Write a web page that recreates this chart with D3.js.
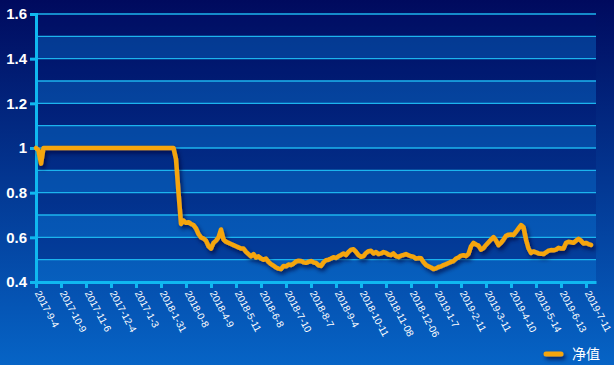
<!DOCTYPE html>
<html><head><meta charset="utf-8">
<script src="https://cdn.jsdelivr.net/npm/d3@7/dist/d3.min.js"></script>
<style>html,body{margin:0;padding:0;overflow:hidden;}svg{display:block;}</style>
</head><body>
<svg id="chart" width="614" height="365"></svg>
<script>
const xLabels = ["2017-9-4","2017-10-9","2017-11-6","2017-12-4","2017-1-3","2018-1-31","2018-0-8","2018-4-9","2018-5-11","2018-6-8","2018-7-10","2018-8-7","2018-9-4","2018-10-11","2018-11-08","2018-12-06","2019-1-7","2019-2-11","2019-3-11","2019-4-10","2019-5-14","2019-6-13","2019-7-11"];
const yTicks = [0.4, 0.6, 0.8, 1.0, 1.2, 1.4, 1.6];
const seriesName = "净值";
const netValue = [
1.0,0.99,0.93,1.0,1.0,1.0,1.0,1.0,1.0,1.0,
1.0,1.0,1.0,1.0,1.0,1.0,1.0,1.0,1.0,1.0,
1.0,1.0,1.0,1.0,1.0,1.0,1.0,1.0,1.0,1.0,
1.0,1.0,1.0,1.0,1.0,1.0,1.0,1.0,1.0,1.0,
1.0,1.0,1.0,1.0,1.0,1.0,1.0,1.0,1.0,1.0,
1.0,1.0,1.0,1.0,1.0,1.0,0.95,0.80,0.66,0.675,
0.665,0.668,0.66,0.655,0.64,0.615,0.60,0.595,0.585,0.56,
0.55,0.575,0.585,0.60,0.635,0.59,0.58,0.575,0.57,0.565,
0.56,0.555,0.55,0.55,0.535,0.525,0.515,0.525,0.51,0.515,
0.505,0.50,0.505,0.49,0.48,0.473,0.465,0.46,0.458,0.472,
0.47,0.478,0.476,0.482,0.492,0.495,0.494,0.488,0.486,0.49,
0.494,0.488,0.485,0.475,0.472,0.488,0.498,0.50,0.505,0.511,
0.508,0.515,0.521,0.528,0.521,0.535,0.545,0.547,0.535,0.52,
0.513,0.516,0.53,0.538,0.54,0.528,0.534,0.525,0.528,0.534,
0.53,0.523,0.52,0.528,0.516,0.512,0.518,0.521,0.525,0.52,
0.515,0.513,0.505,0.507,0.506,0.489,0.476,0.47,0.465,0.458,
0.461,0.467,0.47,0.476,0.48,0.485,0.49,0.494,0.505,0.51,
0.518,0.52,0.516,0.526,0.56,0.575,0.568,0.563,0.545,0.552,
0.566,0.578,0.59,0.601,0.586,0.565,0.575,0.59,0.607,0.612,
0.613,0.611,0.625,0.64,0.655,0.645,0.59,0.55,0.53,0.537,
0.533,0.528,0.527,0.525,0.533,0.54,0.543,0.542,0.545,0.553,
0.55,0.55,0.575,0.58,0.578,0.576,0.585,0.593,0.585,0.572,
0.575,0.57,0.566
];
const labelStep = 10;

const svg = d3.select("#chart");
const W = 614, H = 365;
const m = {left:36, right:18, top:14, bottom:83};
const x = d3.scaleLinear().domain([0, 224]).range([m.left, W - m.right]);
const y = d3.scaleLinear().domain([0.4, 1.6]).range([H - m.bottom, m.top]);

const defs = svg.append("defs");
const bg = defs.append("linearGradient").attr("id","bg").attr("x1",0).attr("y1",0).attr("x2",0).attr("y2",1);
bg.append("stop").attr("offset","0%").attr("stop-color","#000a5e");
bg.append("stop").attr("offset","100%").attr("stop-color","#0664c6");
const sh = defs.append("filter").attr("id","shadow").attr("filterUnits","userSpaceOnUse")
  .attr("x",0).attr("y",0).attr("width",W).attr("height",H);
sh.append("feDropShadow").attr("dx",2).attr("dy",3).attr("stdDeviation",2).attr("flood-color","#000030").attr("flood-opacity",0.7);

svg.append("rect").attr("width",W).attr("height",H).attr("fill","url(#bg)");

// alternating bands
const bandEdges = d3.range(0, 12).map(i => +(0.4 + i*0.1).toFixed(1));
svg.append("g").selectAll("rect").data(bandEdges).join("rect")
  .attr("x", x(0)).attr("width", x(224) - x(0))
  .attr("y", d => y(d + 0.1)).attr("height", d => y(d) - y(d + 0.1))
  .attr("fill", (d,i) => i % 2 === 0 ? "rgba(10,120,215,0.38)" : "rgba(0,20,110,0.22)");

// gridlines
const gridVals = d3.range(0, 13).map(i => +(0.4 + i*0.1).toFixed(1));
svg.append("g").selectAll("line").data(gridVals.filter(d => d > 0.4)).join("line")
  .attr("x1", x(0)).attr("x2", x(224))
  .attr("y1", d => y(d)).attr("y2", d => y(d))
  .attr("stroke","#1cb4ee").attr("stroke-width",1.3);

// y axis
const yAxis = d3.axisLeft(y).tickValues(yTicks).tickSize(6).tickFormat(d => d3.format("")(+d.toFixed(1)));
const gy = svg.append("g").attr("transform",`translate(${m.left},0)`).call(yAxis);
gy.select(".domain").attr("stroke","#10b8f0").attr("stroke-width",3);
gy.selectAll(".tick line").attr("stroke","#10b8f0").attr("stroke-width",3);
gy.selectAll(".tick text").attr("fill","#ffffff").attr("font-family","Arial, 'Liberation Sans', sans-serif")
  .attr("font-size",15).attr("font-weight","bold").attr("x",-9);

// x axis
const xAxis = d3.axisBottom(x).tickValues(xLabels.map((d,i) => i*labelStep)).tickSize(6)
  .tickFormat((d,i) => xLabels[i]).tickSizeOuter(0);
const gx = svg.append("g").attr("transform",`translate(0,${y(0.4)})`).call(xAxis);
gx.select(".domain").attr("stroke","#10b8f0").attr("stroke-width",3);
gx.selectAll(".tick line").attr("stroke","#10b8f0").attr("stroke-width",3);
gx.selectAll(".tick text").attr("fill","#ffffff").attr("font-family","Arial, 'Liberation Sans', sans-serif")
  .attr("font-size",10).attr("text-anchor","start").attr("dy",0).attr("y",0)
  .attr("transform","translate(-2,11) rotate(62)");

// line
const line = d3.line().x((d,i) => x(i)).y(d => y(d));
svg.append("path").datum(netValue).attr("d", line)
  .attr("fill","none").attr("stroke","#f5a50a").attr("stroke-width",4.5)
  .attr("stroke-linejoin","round").attr("stroke-linecap","round")
  .attr("filter","url(#shadow)");

// legend
const lg = svg.append("g");
lg.append("line").attr("x1",546).attr("x2",561).attr("y1",354).attr("y2",354)
  .attr("stroke","#f5a50a").attr("stroke-width",5).attr("stroke-linecap","round").attr("filter","url(#shadow)");
lg.append("text").attr("x",572).attr("y",359).text(seriesName)
  .attr("fill","#ffffff").attr("font-size",14).attr("font-family","'Noto Sans CJK SC', sans-serif");
</script>
</body></html>
